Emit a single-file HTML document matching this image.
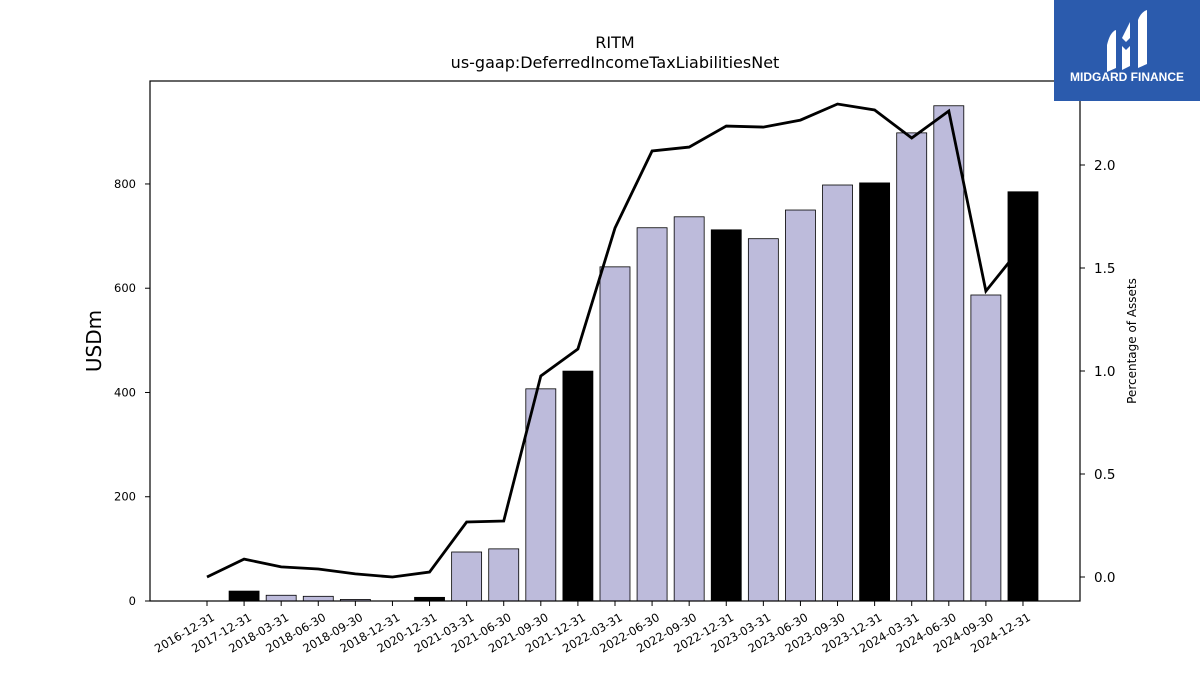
<!DOCTYPE html>
<html><head><meta charset="utf-8"><style>
body{margin:0;background:#fff;font-family:"Liberation Sans","DejaVu Sans",sans-serif}
</style></head><body>
<svg width="1200" height="675" viewBox="0 0 1200 675" xmlns="http://www.w3.org/2000/svg" font-family="DejaVu Sans, Liberation Sans, sans-serif">
<text x="615" y="48" text-anchor="middle" font-size="16">RITM</text>
<text x="615" y="68" text-anchor="middle" font-size="16">us-gaap:DeferredIncomeTaxLiabilitiesNet</text>
<g id="bars"></g><g id="line"></g><g id="axes"></g>
<rect x="150" y="81" width="930" height="520" fill="none" stroke="#000" stroke-width="1.2"/>
<text transform="translate(101,341) rotate(-90)" text-anchor="middle" font-size="20">USDm</text>
<text transform="translate(1136,341) rotate(-90)" text-anchor="middle" font-size="12">Percentage of Assets</text>
<g>
<rect x="1054" y="0" width="146" height="101" fill="#2b5bad"/>
<path d="M1107 45 Q1110 32 1116 30 L1116 68 L1107 72 Z" fill="#fff"/>
<path d="M1122 38 L1130 22 L1130 38 L1126 42 Z M1122 46 L1126 50 L1130 46 L1130 66 L1122 70 Z" fill="#fff"/>
<path d="M1138 20 Q1141 12 1147 10 L1147 64 L1138 68 Z" fill="#fff"/>
<text x="1127" y="81" text-anchor="middle" font-size="12" font-weight="bold" fill="#fff" font-family="Liberation Sans, sans-serif">MIDGARD FINANCE</text>
</g>
</svg>
<script>
const categories=["2016-12-31","2017-12-31","2018-03-31","2018-06-30","2018-09-30","2018-12-31","2020-12-31","2021-03-31","2021-06-30","2021-09-30","2021-12-31","2022-03-31","2022-06-30","2022-09-30","2022-12-31","2023-03-31","2023-06-30","2023-09-30","2023-12-31","2024-03-31","2024-06-30","2024-09-30","2024-12-31"];
const barValues=[0,19,11,9,3,0,7,94,100,407,441,641,716,737,712,695,750,798,802,898,950,587,785];
const pctValues=[0.0,0.087,0.049,0.039,0.015,0.0,0.024,0.267,0.272,0.976,1.107,1.694,2.068,2.087,2.189,2.184,2.218,2.296,2.267,2.131,2.262,1.388,1.612];
const leftTicks=[0,200,400,600,800];
const rightTicks=["0.0","0.5","1.0","1.5","2.0"];
const NS="http://www.w3.org/2000/svg";
const xs=i=>207+i*37.09;
const yL=v=>601-v*0.5213;
const yR=v=>577-v*206;
function mk(t,a,p){const e=document.createElementNS(NS,t);for(const k in a)e.setAttribute(k,a[k]);p.appendChild(e);return e;}
const gb=document.getElementById('bars'),gl=document.getElementById('line'),ga=document.getElementById('axes');
barValues.forEach((v,i)=>{
 const black=categories[i].endsWith('12-31');
 const r=mk('rect',{x:xs(i)-15,y:yL(v),width:30,height:601-yL(v),fill:black?'#000':'#bdbbdb',stroke:'#000','stroke-width':0.8},gb);
 
 
});
const pl=mk('polyline',{points:pctValues.map((v,i)=>xs(i)+','+yR(v)).join(' '),fill:'none',stroke:'#000','stroke-width':2.8},gl);


categories.forEach((c,i)=>{
 const x=xs(i);
 mk('line',{x1:x,y1:601,x2:x,y2:606,stroke:'#000'},ga);
 const t=mk('text',{transform:`translate(${x+4},${612}) rotate(-30)`,'text-anchor':'end','font-size':11.5,'dominant-baseline':'hanging'},ga);
 t.textContent=c;
 
 
});
leftTicks.forEach(v=>{
 const y=yL(v);
 mk('line',{x1:145,y1:y,x2:150,y2:y,stroke:'#000'},ga);
 const t=mk('text',{x:136,y:y+4,'text-anchor':'end','font-size':11.5},ga);
 t.textContent=v;
 
 
});
rightTicks.forEach(v=>{
 const y=yR(parseFloat(v));
 mk('line',{x1:1080,y1:y,x2:1085,y2:y,stroke:'#000'},ga);
 const t=mk('text',{x:1094,y:y+5,'font-size':13.5},ga);
 t.textContent=v;
 
 
});
</script>
</body></html>
